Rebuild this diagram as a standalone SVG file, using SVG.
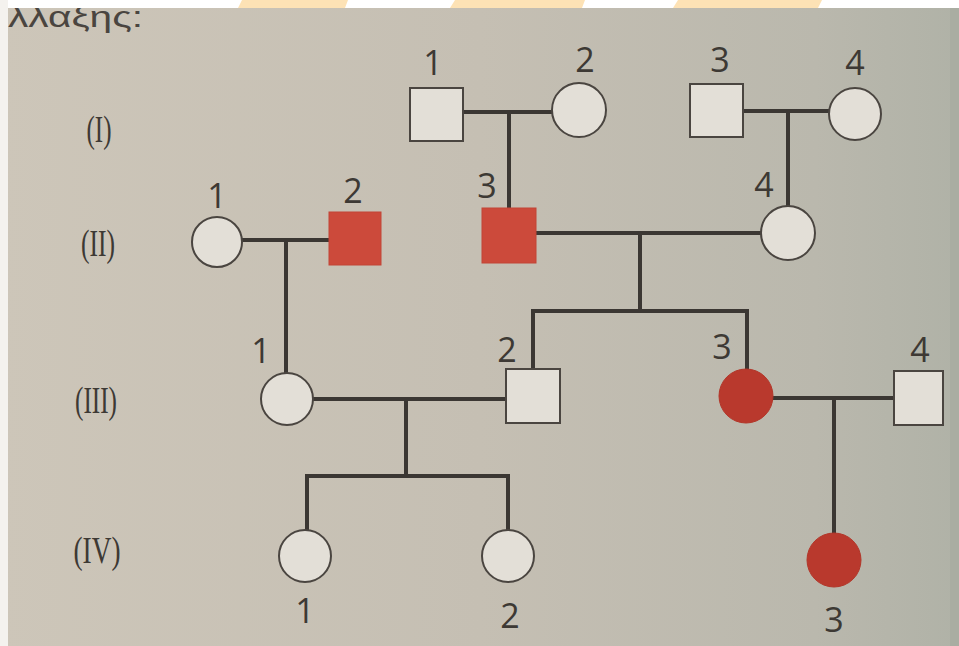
<svg xmlns="http://www.w3.org/2000/svg" width="959" height="646" viewBox="0 0 959 646">
<defs>
<linearGradient id="bg" x1="0" y1="0" x2="1" y2="0">
<stop offset="0" stop-color="#cdc6b9"/>
<stop offset="0.5" stop-color="#c5bfb3"/>
<stop offset="0.85" stop-color="#bab8ad"/>
<stop offset="1" stop-color="#b0b2a7"/>
</linearGradient>
<style>
.n{fill:#e3dfd7;stroke:#4a4540;stroke-width:2}
.a{fill:#cc4a3b;stroke:#c24536;stroke-width:1}
.ad{fill:#b9392d;stroke:#b23629;stroke-width:1}
.c line{stroke:#3b3733;stroke-width:4;stroke-linecap:square}
.lb{font-family:"Open Sans","Noto Sans",sans-serif;font-size:34px;fill:#3d3934;text-anchor:middle}
.gen{font-family:"Liberation Serif",serif;font-size:38px;fill:#3d3934;text-anchor:middle}
</style>
</defs>
<rect x="0" y="0" width="959" height="646" fill="url(#bg)"/>
<rect x="950" y="0" width="9" height="646" fill="#a9ada2"/>
<text x="8" y="27" font-family="Liberation Sans,sans-serif" font-size="29" fill="#4a4540" textLength="135" lengthAdjust="spacingAndGlyphs">λλαξης:</text>
<rect x="0" y="0" width="959" height="8" fill="#ffffff"/>
<polygon points="242,0 348,0 345,8 238,8" fill="#fde2b5"/>
<polygon points="455,0 585,0 582,8 450,8" fill="#fde2b5"/>
<polygon points="678,0 822,0 818,8 673,8" fill="#fde2b5"/>
<rect x="0" y="0" width="8" height="646" fill="#f4f2ee"/>

<g id="generations">
<text class="gen" x="99" y="142" textLength="25" lengthAdjust="spacingAndGlyphs">(I)</text>
<text class="gen" x="98" y="256" textLength="34" lengthAdjust="spacingAndGlyphs">(II)</text>
<text class="gen" x="96" y="413" textLength="42" lengthAdjust="spacingAndGlyphs">(III)</text>
<text class="gen" x="97" y="563" textLength="47" lengthAdjust="spacingAndGlyphs">(IV)</text>
</g>

<g id="connectors" class="c">
<line x1="463" y1="112" x2="552" y2="112"/>
<line x1="509" y1="112" x2="509" y2="208"/>
<line x1="743" y1="111" x2="830" y2="111"/>
<line x1="788" y1="111" x2="788" y2="207"/>
<line x1="242" y1="240" x2="329" y2="240"/>
<line x1="286" y1="240" x2="286" y2="373"/>
<line x1="536" y1="233" x2="762" y2="233"/>
<line x1="640" y1="233" x2="640" y2="311"/>
<line x1="533" y1="311" x2="747" y2="311"/>
<line x1="533" y1="311" x2="533" y2="369"/>
<line x1="747" y1="311" x2="747" y2="369"/>
<line x1="312" y1="399" x2="506" y2="399"/>
<line x1="406" y1="399" x2="406" y2="476"/>
<line x1="307" y1="476" x2="508" y2="476"/>
<line x1="307" y1="476" x2="307" y2="531"/>
<line x1="508" y1="476" x2="508" y2="530"/>
<line x1="773" y1="398" x2="894" y2="398"/>
<line x1="834" y1="398" x2="834" y2="533"/>
</g>

<g id="I1"><rect class="n" x="410" y="88" width="53" height="53"/><text class="lb" x="433" y="75">1</text></g>
<g id="I2"><circle class="n" cx="579" cy="110" r="27"/><text class="lb" x="585" y="72">2</text></g>
<g id="I3"><rect class="n" x="690" y="84" width="53" height="53"/><text class="lb" x="720" y="72">3</text></g>
<g id="I4"><circle class="n" cx="855" cy="114" r="26"/><text class="lb" x="855" y="75">4</text></g>

<g id="II1"><circle class="n" cx="217" cy="242" r="25"/><text class="lb" x="217" y="208">1</text></g>
<g id="II2"><rect class="a" x="329" y="212" width="52" height="53"/><text class="lb" x="353" y="203">2</text></g>
<g id="II3"><rect class="a" x="482" y="208" width="54" height="55"/><text class="lb" x="487" y="198">3</text></g>
<g id="II4"><circle class="n" cx="788" cy="233" r="27"/><text class="lb" x="764" y="197">4</text></g>

<g id="III1"><circle class="n" cx="287" cy="399" r="26"/><text class="lb" x="261" y="363">1</text></g>
<g id="III2"><rect class="n" x="506" y="369" width="54" height="54"/><text class="lb" x="507" y="362">2</text></g>
<g id="III3"><circle class="ad" cx="746" cy="396" r="27"/><text class="lb" x="722" y="359">3</text></g>
<g id="III4"><rect class="n" x="894" y="371" width="49" height="54"/><text class="lb" x="920" y="362">4</text></g>

<g id="IV1"><circle class="n" cx="305" cy="556" r="26"/><text class="lb" x="305" y="623">1</text></g>
<g id="IV2"><circle class="n" cx="508" cy="556" r="26"/><text class="lb" x="510" y="628">2</text></g>
<g id="IV3"><circle class="ad" cx="834" cy="560" r="27"/><text class="lb" x="834" y="632">3</text></g>
</svg>
